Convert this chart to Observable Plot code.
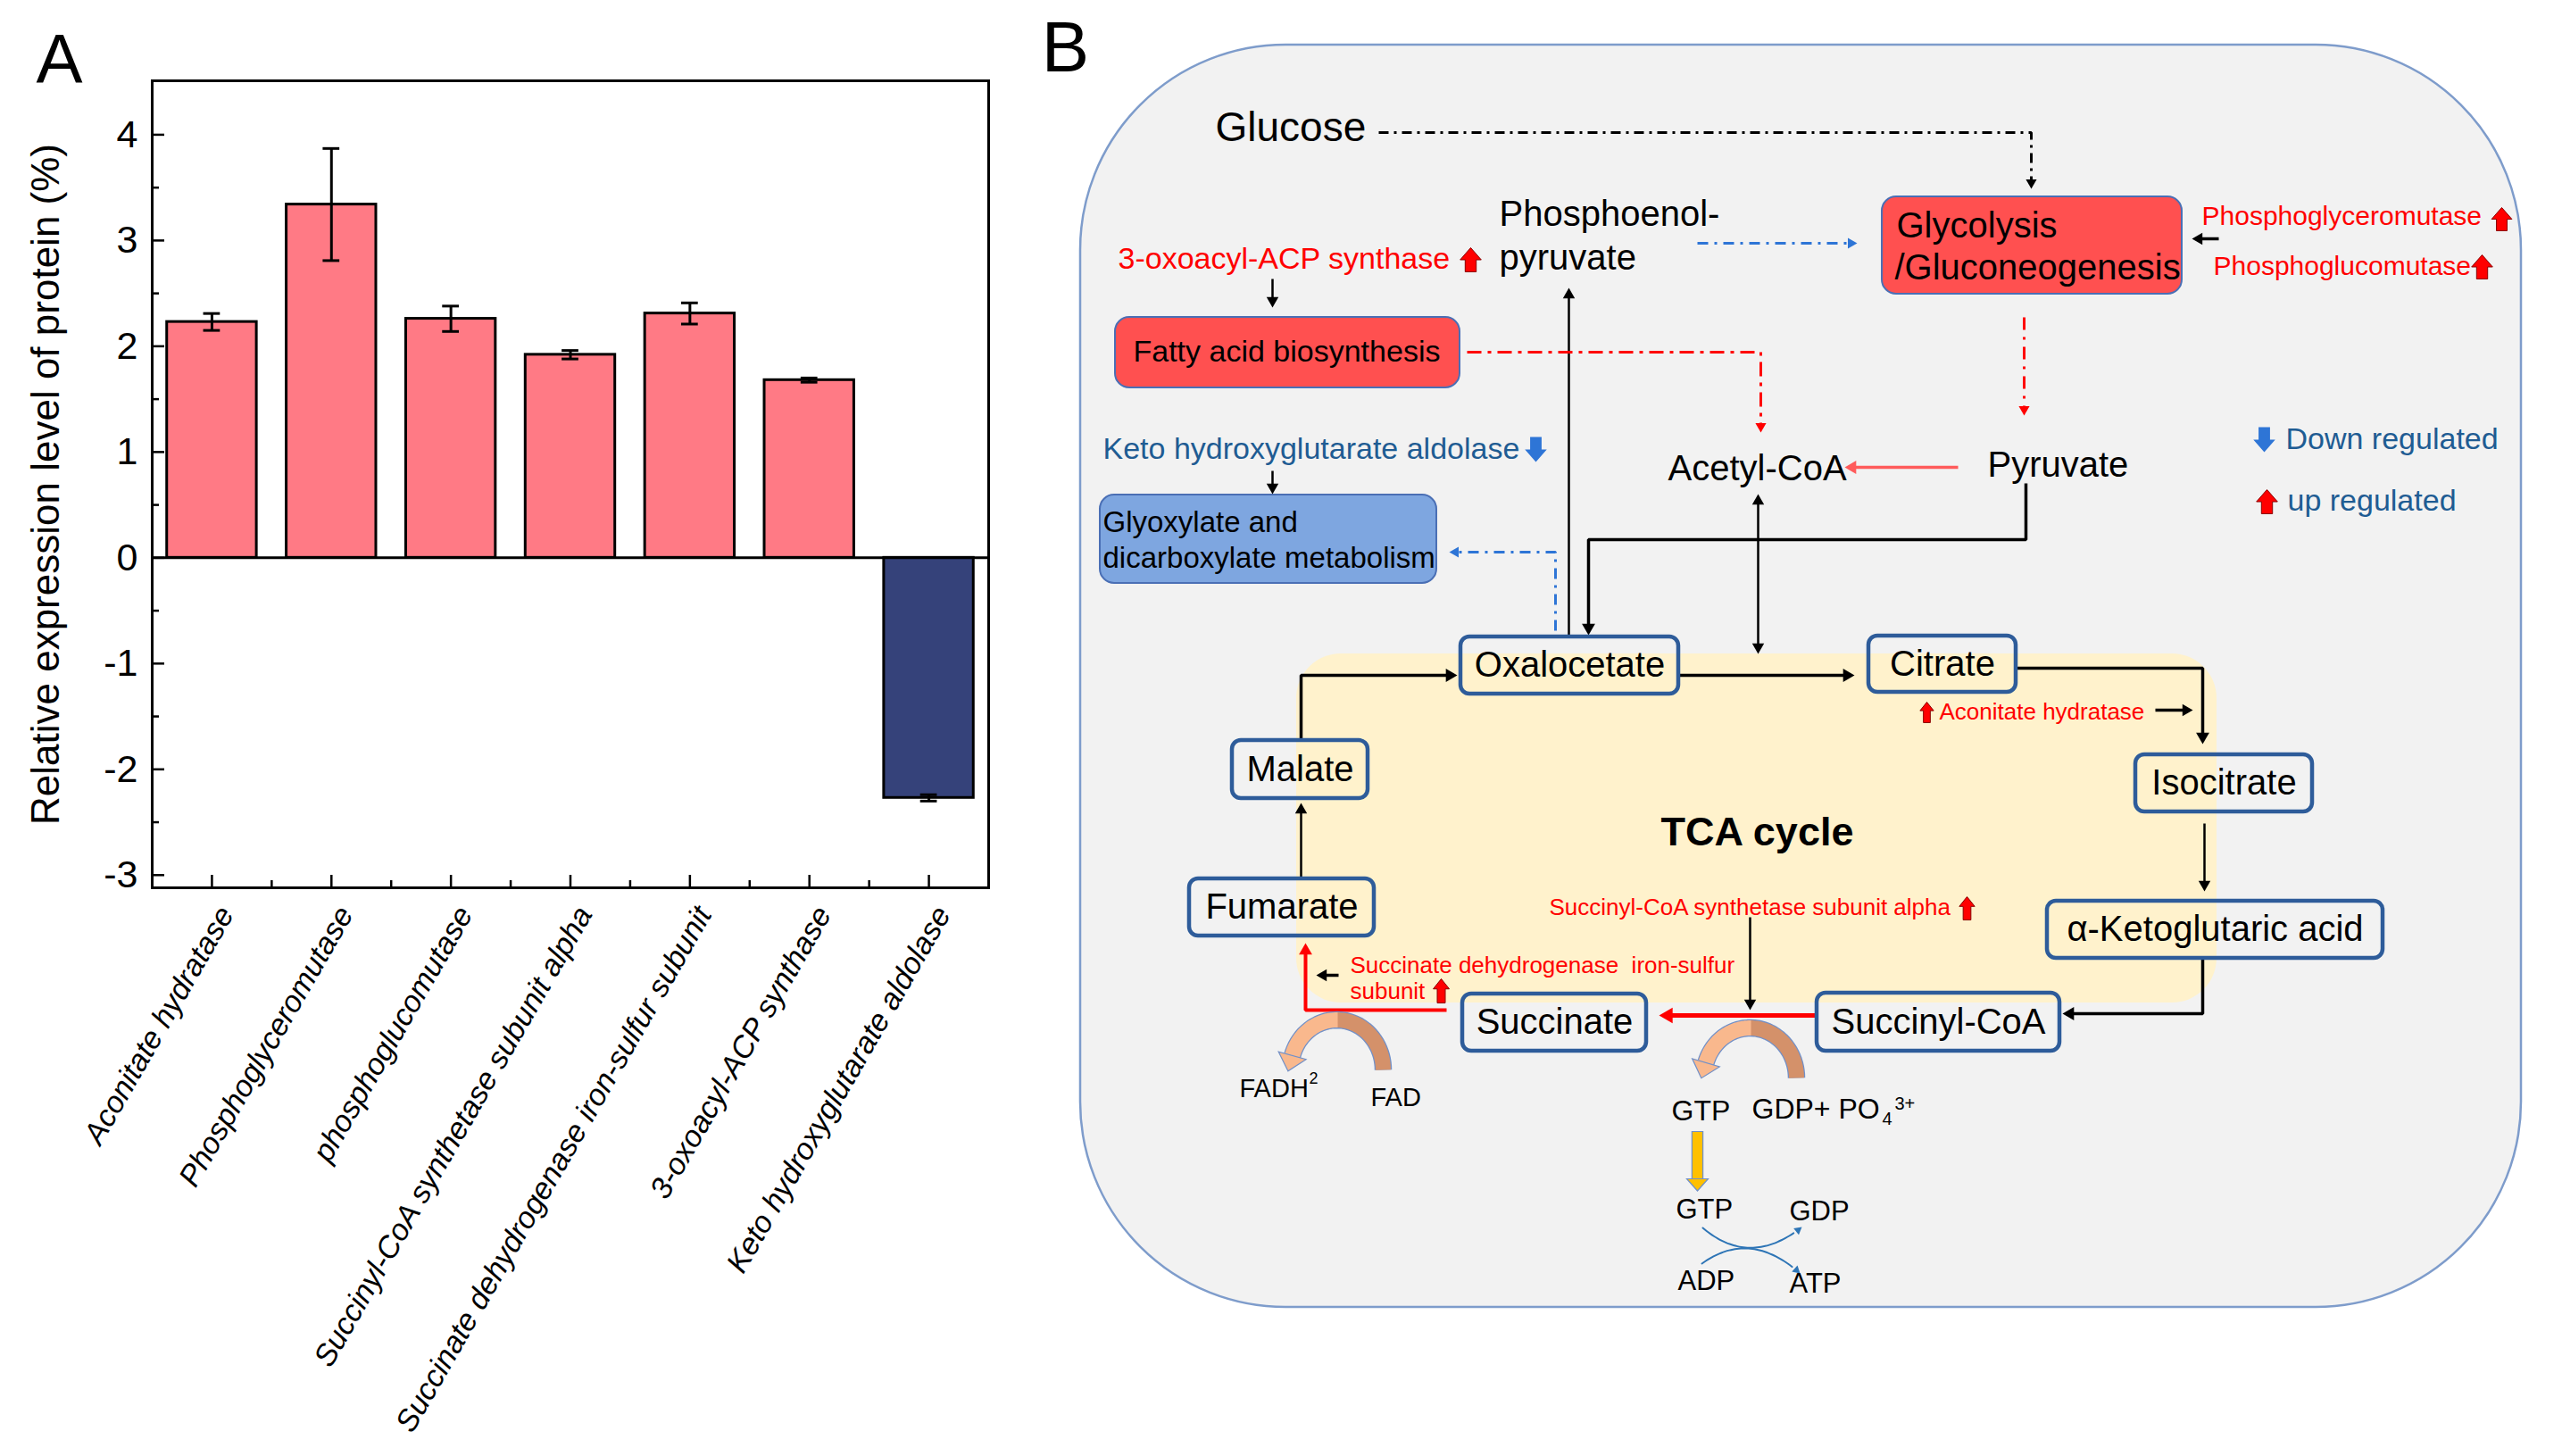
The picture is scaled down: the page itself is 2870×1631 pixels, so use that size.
<!DOCTYPE html>
<html><head><meta charset="utf-8">
<script src="https://cdn.jsdelivr.net/npm/d3@7"></script>
<script src="https://cdn.jsdelivr.net/npm/@observablehq/plot@0.6"></script>
<style>
html,body{margin:0;padding:0;background:#fff;}
#page{position:relative;width:2870px;height:1631px;overflow:hidden;background:#fff;}
#a{position:absolute;left:0;top:0;}
#b{position:absolute;left:1150px;top:0;}
</style></head>
<body><div id="page"><div id="a"></div><div id="b"></div></div>
<script>
// ---------------- Panel A data ----------------
const categories = ["Aconitate hydratase","Phosphoglyceromutase","phosphoglucomutase","Succinyl-CoA synthetase subunit alpha","Succinate dehydrogenase iron-sulfur subunit","3-oxoacyl-ACP synthase","Keto hydroxyglutarate aldolase"];
const values = [2.23, 3.34, 2.26, 1.92, 2.31, 1.68, -2.27];
const errors = [0.08, 0.53, 0.12, 0.04, 0.10, 0.02, 0.03];
const yMajor = [-3,-2,-1,0,1,2,3,4];
const yMinor = [-2.5,-1.5,-0.5,0.5,1.5,2.5,3.5];
const yTitle = "Relative expression level of protein (%)";

// ---------------- Panel B data ----------------
const red = "#FF0000", blueText = "#1F5C93", blueArrow = "#2E75D6";
// text labels [text, x, y, size, colour]
const labelsStart = [
  ["Glucose",1361,143,46,"#000"],
  ["Phosphoenol-",1679,240,40,"#000"],
  ["pyruvate",1679,289,40,"#000"],
  ["Glycolysis",2124,253,40,"#000"],
  ["/Gluconeogenesis",2122,300,40,"#000"],
  ["Phosphoglyceromutase",2466,242,30,red],
  ["Phosphoglucomutase",2479,298,30,red],
  ["3-oxoacyl-ACP synthase",1252,290,34,red],
  ["Fatty acid biosynthesis",1269,394,34,"#000"],
  ["Keto hydroxyglutarate aldolase",1235,503,34,blueText],
  ["Glyoxylate and",1235,585,33,"#000"],
  ["dicarboxylate metabolism",1235,625,33,"#000"],
  ["Acetyl-CoA",1868,525,40,"#000"],
  ["Pyruvate",2226,521,40,"#000"],
  ["Down regulated",2560,492,34,blueText],
  ["up regulated",2562,561,34,blueText],
  ["Aconitate hydratase",2172,797,26,red],
  ["Succinyl-CoA synthetase subunit alpha",1735,1016,26,red],
  ["Succinate dehydrogenase\u00a0 iron-sulfur",1512,1081,26,red],
  ["subunit",1512,1110,26,red],
  ["FADH",1388,1219,29,"#000"],
  ["2",1466,1208,18,"#000"],
  ["FAD",1535,1229,29,"#000"],
  ["GTP",1872,1244,32,"#000"],
  ["GDP+ PO",1962,1242,32,"#000"],
  ["4",2108,1253,20,"#000"],
  ["3+",2122,1236,20,"#000"],
  ["GTP",1877,1355,31,"#000"],
  ["GDP",2004,1357,31,"#000"],
  ["ADP",1879,1435,31,"#000"],
  ["ATP",2004,1438,31,"#000"]
];
// TCA nodes [name, x1, x2, y1, y2]
const tcaNodes = [
  ["Oxalocetate",1636,1880,713,777],
  ["Citrate",2093,2258,712,775],
  ["Malate",1380,1532,829,894],
  ["Isocitrate",2392,2590,845,909],
  ["Fumarate",1332,1539,984,1048],
  ["α-Ketoglutaric acid",2293,2669,1009,1073],
  ["Succinate",1638,1844,1113,1177],
  ["Succinyl-CoA",2035,2307,1112,1177]
];
// coloured pathway boxes [x1,x2,y1,y2,fill]
const pathwayBoxes = [
  [2108,2444,220,329,"#FF5050"],
  [1249,1635,355,434,"#FF5050"],
  [1232,1609,554,653,"#7EA6E0"]
];
// connectors: points, colour, width, head radius, dash, double-headed
const connectors = [
  {pts:[[1425,312],[1425,344]], c:"#000", w:2.5, r:5},
  {pts:[[1425,527],[1425,553]], c:"#000", w:2.5, r:5},
  {pts:[[1757,711],[1757,322]], c:"#000", w:2.5, r:5},
  {pts:[[2269,541],[2269,604],[1779,604],[1779,711]], c:"#000", w:3.5, r:5.5},
  {pts:[[1969,553],[1969,732]], c:"#000", w:2.5, r:5, both:true},
  {pts:[[1880,756],[2077,756]], c:"#000", w:3.5, r:5.5},
  {pts:[[2259,748],[2467,748],[2467,833]], c:"#000", w:3.5, r:5.5},
  {pts:[[2414,795],[2456,795]], c:"#000", w:3.5, r:5},
  {pts:[[2469,922],[2469,998]], c:"#000", w:2.5, r:5},
  {pts:[[2467,1073],[2467,1135],[2310,1135]], c:"#000", w:3.5, r:5.5},
  {pts:[[1960,1027],[1960,1131]], c:"#000", w:2.5, r:5},
  {pts:[[1457,984],[1457,899]], c:"#000", w:2.5, r:5},
  {pts:[[1457,829],[1457,756],[1632,756]], c:"#000", w:3.5, r:5.5},
  {pts:[[1499,1092],[1474,1092]], c:"#000", w:3.5, r:5},
  {pts:[[2485,267],[2455,267]], c:"#000", w:3.5, r:5},
  {pts:[[2033,1137],[1858,1137]], c:red, w:5, r:6.5},
  {pts:[[1620,1131],[1462,1131],[1462,1056]], c:red, w:4, r:5.5},
  {pts:[[2193,523],[2066,523]], c:"#FF5B5B", w:3.5, r:5.5},
  {pts:[[1544,148],[2275,148],[2275,211]], c:"#000", w:3, r:4.5, dash:"11,6,3,6"},
  {pts:[[1901,272],[2080,272]], c:blueArrow, w:3, r:4.5, dash:"12,7,3,7"},
  {pts:[[1643,394],[1972,394],[1972,484]], c:red, w:3, r:4.5, dash:"16,7,4,7"},
  {pts:[[2267,355],[2267,465]], c:red, w:3, r:4.5, dash:"14,8,3,8"},
  {pts:[[1742,706],[1742,618],[1623,618]], c:blueArrow, w:3, r:4.5, dash:"12,7,3,7"}
];
// regulation block arrows: x, tail y, tip y, colour, shape
const blockArrows = [
  [2802,258,232,red,"wide"],[2780,312,285,red,"wide"],[1647,304,277,red,"wide"],
  [1720,489,517,blueArrow,"wide"],[2536,478,506,blueArrow,"wide"],[2539,575,548,red,"wide"],
  [2158,809,786,red,"narrow"],[2203,1030,1004,red,"narrow"],[1614,1123,1096,red,"narrow"]
];
// curved cofactor arrows: centre, radii, end angle
const cofactorArcs = [
  {cx:1497,cy:1198,rx:52,ry:56,tEnd:Math.PI-0.29},
  {cx:1960,cy:1207,rx:52,ry:56,tEnd:Math.PI-0.31}
];
// crossing GTP/ATP exchange curves: start, control, end
const exchangeCurves = [
  [[1907,1375],[1960,1420],[2018,1374]],
  [[1906,1415],[1960,1376],[2016,1426]]
];

const font = "'Liberation Sans', Arial, Helvetica, sans-serif";

// ---------------- Panel A ----------------
const bars = categories.map((name,i)=>({name, i, v: values[i], e: errors[i]}));
const chartA = Plot.plot({
  width: 1150, height: 1631,
  marginLeft: 170, marginRight: 43, marginTop: 90, marginBottom: 637,
  style: {fontFamily: font, background: "transparent", overflow: "visible", color: "#000"},
  x: {domain: [0, 7]},
  y: {domain: [-3.12, 4.51]},
  marks: [
    Plot.rect(bars, {x1: d=>d.i+0.125, x2: d=>d.i+0.875, y1: 0, y2: "v",
      fill: d=> d.v >= 0 ? "#FF7A85" : "#35427A", stroke: "#000", strokeWidth: 3}),
    Plot.ruleY([0], {stroke: "#000", strokeWidth: 3}),
    Plot.ruleX(bars, {x: d=>d.i+0.5, y1: d=>d.v-d.e, y2: d=>d.v+d.e, stroke: "#000", strokeWidth: 3}),
    Plot.ruleY(bars, {y: d=>d.v+d.e, x1: d=>d.i+0.43, x2: d=>d.i+0.57, stroke: "#000", strokeWidth: 3}),
    Plot.ruleY(bars, {y: d=>d.v-d.e, x1: d=>d.i+0.43, x2: d=>d.i+0.57, stroke: "#000", strokeWidth: 3}),
    Plot.frame({stroke: "#000", strokeWidth: 3}),
    Plot.axisY({ticks: yMajor, tickSize: 0, tickPadding: 16, fontSize: 43, label: null, tickFormat: d => String(d)}),
    Plot.axisY({ticks: yMajor, tickSize: 14, dx: 14, strokeWidth: 2.5, label: null, tickFormat: () => ""}),
    Plot.axisY({ticks: yMinor, tickSize: 8, dx: 8, strokeWidth: 2.5, label: null, tickFormat: () => ""}),
    Plot.axisX({ticks: bars.map(d=>d.i+0.5), tickSize: 14, dy: -14, strokeWidth: 2.5, label: null, tickFormat: () => ""}),
    Plot.axisX({ticks: [1,2,3,4,5,6], tickSize: 8, dy: -8, strokeWidth: 2.5, label: null, tickFormat: () => ""}),
    Plot.text(bars, {x: d=>d.i+0.5, frameAnchor: "bottom", text: "name", rotate: -60, textAnchor: "end",
      lineAnchor: "middle", dx: 16, dy: 24, fontSize: 34, fontStyle: "italic", fill: "#000"}),
    Plot.text([yTitle], {frameAnchor: "left", dx: -119, rotate: -90, textAnchor: "middle", lineAnchor: "middle", fontSize: 44, fill: "#000"}),
    Plot.text(["A"], {frameAnchor: "top-left", dx: -104, dy: 2, lineAnchor: "bottom", textAnchor: "middle", fontSize: 78, fill: "#000"})
  ]
});
document.getElementById("a").appendChild(chartA);

// ---------------- Panel B helpers ----------------
// custom block-arrow symbol pointing up, half-height 12 units scaled by r
function blockSymbol(hw, sw, hh) {
  return {draw(ctx, size) {
    const k = Math.sqrt(size / Math.PI) / 12;
    const yb = (-12 + hh) * k;
    ctx.moveTo(0, -12*k); ctx.lineTo(hw*k, yb); ctx.lineTo(sw*k, yb); ctx.lineTo(sw*k, 12*k);
    ctx.lineTo(-sw*k, 12*k); ctx.lineTo(-sw*k, yb); ctx.lineTo(-hw*k, yb); ctx.closePath();
  }};
}
const symbols = {wide: blockSymbol(10.5, 5.5, 12), narrow: blockSymbol(8, 4, 10)};
// flat arrowhead: base centred at origin, tip at -H
const flatHead = {draw(ctx, size) {
  const k = Math.sqrt(size / Math.PI) / 16;
  ctx.moveTo(0, -18*k); ctx.lineTo(16*k, 0); ctx.lineTo(-16*k, 0); ctx.closePath();
}};

function connectorMarks(c) {
  const pts = c.pts.map(p => p.slice());
  const r = c.r;
  const heads = [];
  const head = (a, b) => {
    const dx = b[0]-a[0], dy = b[1]-a[1], L = Math.hypot(dx, dy);
    const ux = dx/L, uy = dy/L;
    heads.push({x: b[0]-ux*1.555*r, y: b[1]-uy*1.555*r, rot: Math.atan2(ux, -uy)*180/Math.PI});
    return [b[0]-ux*1.3*r, b[1]-uy*1.3*r];
  };
  pts[pts.length-1] = head(pts[pts.length-2], pts[pts.length-1]);
  if (c.both) pts[0] = head(pts[1], pts[0]);
  return [
    Plot.line(pts, {x: d=>d[0], y: d=>d[1], stroke: c.c, strokeWidth: c.w, strokeDasharray: c.dash,
      strokeLinejoin: "miter", strokeLinecap: "butt", curve: "linear"}),
    Plot.dot(heads, {x: "x", y: "y", rotate: "rot", symbol: "triangle", r, fill: c.c, stroke: "none"})
  ];
}
function blockArrowMarks(list) {
  const data = list.map(([x, y1, y2, col, shape]) => ({x, y: (y1+y2)/2, r: Math.abs(y2-y1)/2,
    rot: y2 < y1 ? 0 : 180, col, shape, edge: col === red ? "#8A0000" : "none"}));
  return ["wide", "narrow"].map(s => {
    const d = data.filter(e => e.shape === s);
    return Plot.dot(d, {x: "x", y: "y", r: "r", rotate: "rot", symbol: symbols[s], fill: "col", stroke: "edge", strokeWidth: 1});
  });
}
function arcMarks(a) {
  const P = t => ({x: a.cx + a.rx*Math.cos(t), y: a.cy - a.ry*Math.sin(t)});
  const all = d3.range(0, 41).map(k => P(k/40*a.tEnd));
  const dark = d3.range(0, 31).map(k => P(k/30*(Math.PI/2+0.05)));
  const light = d3.range(0, 31).map(k => P(Math.PI/2 - 0.02 + k/30*(a.tEnd - Math.PI/2 + 0.02)));
  const e = P(a.tEnd);
  const dx = -a.rx*Math.sin(a.tEnd), dy = -a.ry*Math.cos(a.tEnd), L = Math.hypot(dx, dy);
  const hd = {x: e.x, y: e.y, rot: Math.atan2(dx/L, -dy/L)*180/Math.PI};
  return [
    Plot.line(all, {x: "x", y: "y", stroke: "#7190C8", strokeWidth: 19.5, strokeLinecap: "butt"}),
    Plot.line(dark, {x: "x", y: "y", stroke: "#D4916A", strokeWidth: 17, strokeLinecap: "butt"}),
    Plot.line(light, {x: "x", y: "y", stroke: "#F9B88D", strokeWidth: 17, strokeLinecap: "butt"}),
    Plot.dot([hd], {x: "x", y: "y", rotate: "rot", symbol: flatHead, r: 16, fill: "#F9B88D", stroke: "#7190C8", strokeWidth: 1.2})
  ];
}
function curveMarks(cv) {
  const [p0, c, p2] = cv;
  const pts = d3.range(0, 26).map(k => {
    const t = k/25, m = 1-t;
    return {x: m*m*p0[0] + 2*m*t*c[0] + t*t*p2[0], y: m*m*p0[1] + 2*m*t*c[1] + t*t*p2[1]};
  });
  const dx = p2[0]-c[0], dy = p2[1]-c[1], L = Math.hypot(dx, dy), r = 3.5;
  const hd = {x: p2[0]-dx/L*1.555*r, y: p2[1]-dy/L*1.555*r, rot: Math.atan2(dx/L, -dy/L)*180/Math.PI};
  return [
    Plot.line(pts.slice(0, 24), {x: "x", y: "y", stroke: "#2E75B6", strokeWidth: 2, curve: "natural"}),
    Plot.dot([hd], {x: "x", y: "y", rotate: "rot", symbol: "triangle", r, fill: "#2E75B6", stroke: "none"})
  ];
}

const nodes = tcaNodes.map(([name,x1,x2,y1,y2]) => ({name, x1, x2, y1, y2}));
const boxes = pathwayBoxes.map(([x1,x2,y1,y2,fill]) => ({x1, x2, y1, y2, fill}));
const textsStart = labelsStart.map(([text,x,y,size,col]) => ({text, x, y, size, col}));
const goldArrow = [{x: 1901, y1: 1267, y2: 1320}];

const chartB = Plot.plot({
  width: 1720, height: 1631, margin: 0,
  x: {domain: [1150, 2870], range: [0, 1720], axis: null},
  y: {domain: [0, 1631], range: [0, 1631], axis: null},
  r: {type: "identity"},
  color: {type: "identity"},
  style: {fontFamily: font, background: "transparent", overflow: "visible", color: "#000"},
  marks: [
    Plot.rect([{x1: 1210, x2: 2824, y1: 50, y2: 1464}], {x1: "x1", x2: "x2", y1: "y1", y2: "y2", rx: 230,
      fill: "#F2F2F2", stroke: "#7E9CCB", strokeWidth: 2.5}),
    Plot.rect([{x1: 1452, x2: 2483, y1: 732, y2: 1123}], {x1: "x1", x2: "x2", y1: "y1", y2: "y2", rx: 50,
      fill: "#FFF2CC", stroke: "none"}),
    Plot.rect(boxes, {x1: "x1", x2: "x2", y1: "y1", y2: "y2", rx: 16, fill: "fill", stroke: "#4A6FB5", strokeWidth: 2}),
    ...connectors.flatMap(connectorMarks),
    ...blockArrowMarks(blockArrows),
    ...cofactorArcs.flatMap(arcMarks),
    ...exchangeCurves.flatMap(curveMarks),
    // gold GTP transfer arrow
    Plot.ruleX(goldArrow, {x: "x", y1: "y1", y2: "y2", stroke: "#7190C8", strokeWidth: 13.5}),
    Plot.ruleX(goldArrow, {x: "x", y1: d => d.y1 + 1, y2: d => d.y2 + 1, stroke: "#FFC000", strokeWidth: 11}),
    Plot.dot(goldArrow, {x: "x", y: "y2", symbol: flatHead, r: 12, rotate: 180, fill: "#FFC000", stroke: "#7190C8", strokeWidth: 1.2}),
    Plot.rect(nodes, {x1: "x1", x2: "x2", y1: "y1", y2: "y2", rx: 10, fill: "none", stroke: "#2E5C9A", strokeWidth: 4.5}),
    Plot.text(nodes, {x: d => (d.x1+d.x2)/2, y: d => (d.y1+d.y2)/2, text: "name", fontSize: 40, fill: "#000", lineAnchor: "middle"}),
    Plot.text(textsStart, {x: "x", y: "y", text: "text", fontSize: "size", fill: "col", textAnchor: "start", lineAnchor: "middle"}),
    Plot.text(["TCA cycle"], {x: () => 1968, y: () => 932, fontSize: 45, fontWeight: "bold", fill: "#000", lineAnchor: "middle"}),
    Plot.text(["B"], {x: () => 1193, y: () => 79, fontSize: 80, fill: "#000", lineAnchor: "bottom"})
  ]
});
document.getElementById("b").appendChild(chartB);
</script>
</body></html>
